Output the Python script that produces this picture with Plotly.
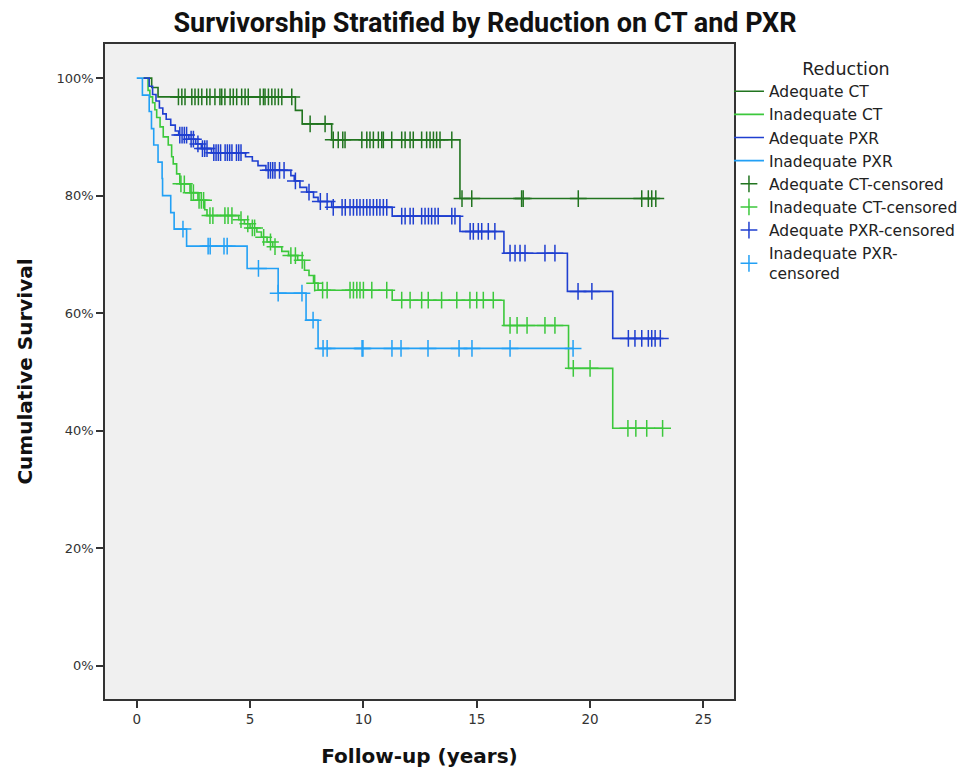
import plotly.graph_objects as go

# ---------------- data ----------------
groups = ["Adequate CT", "Inadequate CT", "Adequate PXR", "Inadequate PXR"]
colors = ["#21741f", "#3cc83c", "#1f3fd0", "#22a0f5"]

# Adequate CT
act_start = 0.3
act_event_t = [0.66, 0.94, 7.0, 7.3, 8.6, 14.26]
act_event_s = [98.4, 96.8, 94.5, 92.2, 89.5, 79.5]
act_end = 22.9
act_cens_t = [1.84, 1.99, 2.13, 2.43, 2.57, 2.72, 2.87, 3.09, 3.23, 3.45, 3.67, 3.75,
              3.89, 4.12, 4.26, 4.41, 4.63, 4.78, 4.92, 5.44, 5.59, 5.66, 5.81, 5.96,
              6.10, 6.25, 6.40, 6.84, 7.65, 8.31, 8.67, 8.89, 9.09, 9.19, 9.93, 10.15,
              10.29, 10.44, 10.66, 10.81, 10.88, 11.25, 11.69, 11.84, 12.06, 12.2,
              12.57, 12.79, 12.94, 13.09, 13.23, 13.38, 13.9, 14.35, 14.78, 16.98,
              17.05, 19.48, 22.28, 22.57, 22.72, 22.9]

# Inadequate CT
ict_start = 0.3
ict_event_t = [0.5, 0.58, 0.7, 0.8, 0.88, 1.03, 1.17, 1.39, 1.54, 1.61, 1.76, 1.9,
               2.35, 2.7, 3.0, 3.1, 4.5, 4.75, 5.0, 5.3, 5.5, 5.75, 6.0, 6.4, 6.7,
               7.1, 7.4, 7.6, 7.8, 8.0, 11.27, 16.2, 19.05, 21.0]
ict_event_s = [97.9, 96.8, 95.8, 94.6, 93.3, 91.7, 90.0, 88.6, 86.6, 85.4, 83.7, 82.0,
               80.5, 79.2, 77.6, 76.6, 75.9, 75.2, 74.5, 73.8, 72.9, 72.1, 71.3, 70.5,
               69.8, 69.0, 67.3, 66.4, 65.1, 63.9, 62.2, 57.9, 50.6, 40.4]
ict_end = 23.2
ict_cens_t = [1.95, 2.1, 2.4, 2.5, 2.75, 2.85, 2.95, 3.23, 3.36, 3.89, 4.03, 4.2,
              4.6, 4.9, 5.1, 5.2, 5.6, 5.9, 6.1, 6.8, 7.0, 7.3, 7.85, 8.2, 8.4,
              9.41, 9.56, 9.71, 9.85, 10.0, 10.37, 11.03, 11.69, 12.06, 12.57, 12.86,
              13.45, 14.12, 14.7, 15.0, 15.29, 15.73, 16.47, 16.78, 17.22, 18.01,
              18.45, 19.26, 20.0, 21.67, 22.02, 22.5, 23.2]

# Adequate PXR
apx_start = 0.3
apx_event_t = [0.55, 0.7, 0.85, 1.0, 1.15, 1.3, 1.5, 1.7, 1.85, 2.3, 2.6, 2.85, 3.3,
               4.8, 5.1, 5.35, 5.7, 6.8, 6.95, 7.2, 7.5, 7.8, 8.0, 8.6, 11.27, 14.26,
               16.2, 19.0, 21.0]
apx_event_s = [98.6, 97.2, 96.1, 94.9, 93.9, 93.0, 92.0, 91.0, 90.3, 89.6, 88.8, 88.0,
               87.3, 86.6, 85.9, 85.1, 84.3, 83.4, 82.5, 81.4, 80.6, 79.7, 79.0, 78.0,
               76.5, 73.9, 70.2, 63.7, 55.7]
apx_end = 23.1
apx_cens_t = [1.9, 2.0, 2.1, 2.2, 2.4, 2.5, 2.7, 2.9, 3.0, 3.1, 3.4, 3.5, 3.6, 3.7,
              3.9, 4.0, 4.1, 4.2, 4.4, 4.5, 4.6, 5.8, 5.9, 6.0, 6.1, 6.3, 6.5, 7.0,
              7.6, 8.1, 8.4, 8.67, 9.06, 9.2, 9.41, 9.56, 9.71, 9.85, 10.0, 10.15,
              10.29, 10.44, 10.59, 10.73, 10.88, 11.03, 11.69, 11.84, 12.06, 12.2,
              12.57, 12.72, 12.87, 13.01, 13.16, 13.3, 13.9, 14.04, 14.71, 14.85,
              15.07, 15.22, 15.51, 15.8, 16.47, 16.69, 16.91, 17.13, 18.01, 18.45,
              19.47, 20.08, 21.69, 21.98, 22.28, 22.57, 22.72, 22.87, 23.1]

# Inadequate PXR
ipx_start = 0.0
ipx_event_t = [0.25, 0.55, 0.65, 0.75, 0.94, 1.12, 1.14, 1.5, 1.65, 2.2, 4.87, 6.24,
               7.47, 8.0]
ipx_event_s = [97.1, 94.3, 91.4, 88.6, 85.7, 82.9, 80.0, 77.1, 74.3, 71.4, 67.6, 63.4,
               58.8, 54.0]
ipx_end = 19.25
ipx_cens_t = [2.04, 3.15, 3.24, 3.85, 3.99, 5.37, 6.24, 7.29, 7.78, 8.22, 8.4, 9.94,
              9.98, 11.26, 11.66, 12.85, 14.22, 14.79, 16.47, 19.25]

series = [
    (act_start, act_event_t, act_event_s, act_end, act_cens_t),
    (ict_start, ict_event_t, ict_event_s, ict_end, ict_cens_t),
    (apx_start, apx_event_t, apx_event_s, apx_end, apx_cens_t),
    (ipx_start, ipx_event_t, ipx_event_s, ipx_end, ipx_cens_t),
]

x_ticks = [0, 5, 10, 15, 20, 25]
y_ticks = [0, 20, 40, 60, 80, 100]
y_tick_labels = ["0%", "20%", "40%", "60%", "80%", "100%"]


def surv_at(t, ev_t, ev_s):
    s = 100.0
    for et, es in zip(ev_t, ev_s):
        if et <= t:
            s = es
    return s


FONT = "DejaVu Sans, Lato, sans-serif"
fig = go.Figure()

# step curves
for name, col, (st, et, es, en, ct) in zip(groups, colors, series):
    xs = [st] + et + [en]
    ys = [100.0] + es + [es[-1]]
    fig.add_trace(go.Scatter(x=xs, y=ys, mode="lines", line_shape="hv",
                             line=dict(color=col, width=1.6), name=name))

# censored markers
cens_names = ["Adequate CT-censored", "Inadequate CT-censored",
              "Adequate PXR-censored", "Inadequate PXR-<br>censored"]
for name, col, (st, et, es, en, ct) in zip(cens_names, colors, series):
    cy = [surv_at(t, et, es) for t in ct]
    fig.add_trace(go.Scatter(x=ct, y=cy, mode="markers", name=name,
                             marker=dict(symbol="cross-thin-open", size=12, color=col,
                                         line=dict(color=col, width=1.5))))

fig.update_layout(
    width=976, height=769,
    paper_bgcolor="white", plot_bgcolor="#f0f0f0",
    margin=dict(l=105, r=242, t=44, b=70, autoexpand=False),
    title=dict(text="<b>Survivorship Stratified by Reduction on CT and PXR</b>",
               x=485 / 976, xanchor="center", y=1 - 23 / 769, yanchor="middle",
               font=dict(family="Roboto, Liberation Sans, sans-serif",
                         size=27, color="#111")),
    font=dict(family=FONT, color="#222"),
    legend=dict(x=0.992, xanchor="left", y=0.988, yanchor="top",
                bgcolor="rgba(0,0,0,0)", borderwidth=0,
                font=dict(family=FONT, size=15.5, color="#222"),
                title=dict(text="Reduction", side="top center",
                           font=dict(family=FONT, size=17.5, color="#222")),
                tracegroupgap=0, itemwidth=30),
    showlegend=True,
)

fig.update_xaxes(range=[-1.40, 26.35], tickvals=x_ticks, ticks="outside", ticklen=7,
                 tickwidth=1.5, tickcolor="#333", showgrid=False, zeroline=False,
                 showline=True, linecolor="#333", linewidth=1.5, mirror=True,
                 automargin=False,
                 tickfont=dict(family=FONT, size=13.5, color="#333"),
                 title=dict(text="<b>Follow-up (years)</b>", standoff=23,
                            font=dict(family=FONT, size=20, color="#111")))
fig.update_yaxes(range=[-5.67, 105.8], tickvals=y_ticks, ticktext=y_tick_labels,
                 ticks="outside",
                 ticklen=7, tickwidth=1.5, tickcolor="#333", showgrid=False,
                 zeroline=False, showline=True, linecolor="#333", linewidth=1.5,
                 mirror=True, automargin=False,
                 tickfont=dict(family=FONT, size=13, color="#333"),
                 title=dict(text="<b>Cumulative Survival</b>", standoff=18,
                            font=dict(family=FONT, size=20, color="#111")))

fig.write_html("out.html", config={"displayModeBar": False},
               post_script="document.body.style.margin='0px';")
